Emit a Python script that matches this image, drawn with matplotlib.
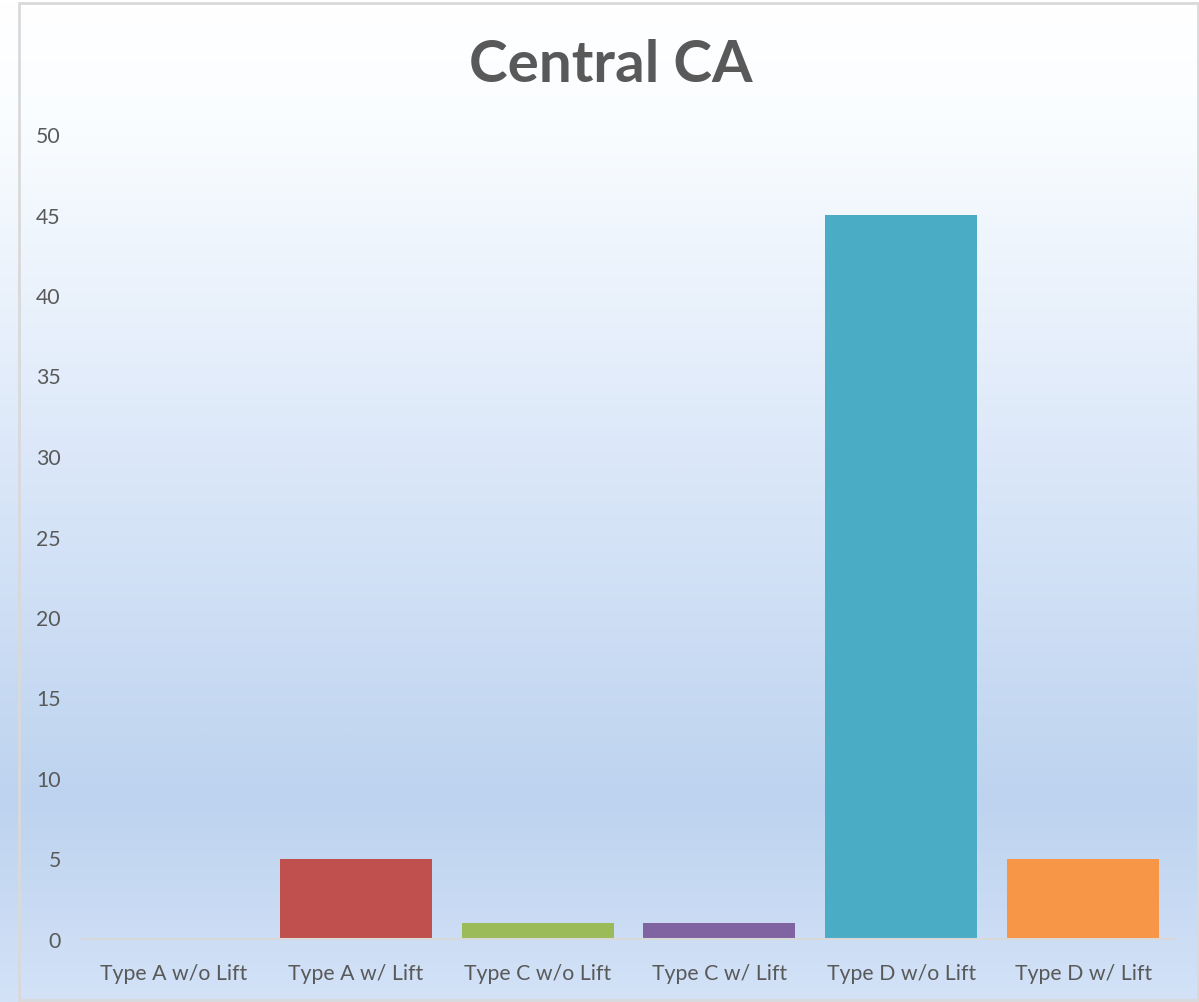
import numpy as np
import matplotlib
matplotlib.use("Agg")
import matplotlib.pyplot as plt
from matplotlib.colors import LinearSegmentedColormap
from matplotlib.patches import Rectangle

# Chart data
categories = ["Type A w/o Lift", "Type A w/ Lift", "Type C w/o Lift",
              "Type C w/ Lift", "Type D w/o Lift", "Type D w/ Lift"]
counts = [0, 5, 1, 1, 45, 5]
bar_colors = ["#4F81BD", "#C0504D", "#9BBB59", "#8064A2", "#4BACC6", "#F79646"]
y_ticks = list(range(0, 55, 5))
title = "Central CA"

plt.rcParams["font.family"] = ["Lato", "DejaVu Sans"]
text_color = "#595959"

fig = plt.figure(figsize=(11.99, 10.03), dpi=100)

# Vertical gradient background for the chart area
bg = fig.add_axes([0, 0, 1, 1], zorder=0)
grad_cmap = LinearSegmentedColormap.from_list(
    "bg",
    [(0.0, "#FFFFFF"), (0.12, "#FAFDFF"), (0.45, "#DCE8F9"),
     (0.80, "#BDD3EF"), (1.0, "#D3E2F7")])
grad = np.linspace(0, 1, 512).reshape(-1, 1)
bg.imshow(grad, aspect="auto", cmap=grad_cmap, extent=[0, 1, 1, 0])
bg.set_xlim(0, 1)
bg.set_ylim(1, 0)
bg.axis("off")

# Thin grey frame around the chart
fig.patches.append(Rectangle((19 / 1199, 2 / 1003), 1 - 20 / 1199, 1 - 6 / 1003,
                             transform=fig.transFigure, fill=False,
                             edgecolor="#D9D9D9", linewidth=2, zorder=5))

ax = fig.add_axes([83 / 1199, 63 / 1003, 1091 / 1199, 805 / 1003], zorder=1)
ax.patch.set_alpha(0)

x = np.arange(len(categories))
ax.bar(x, counts, width=0.836, color=bar_colors, zorder=2)

ax.set_xlim(-0.5, len(categories) - 0.5)
ax.set_ylim(0, 50)
ax.set_yticks(y_ticks)
ax.set_yticklabels([str(t) for t in y_ticks])
ax.set_xticks(x)
ax.set_xticklabels(categories)

for s in ["top", "right", "left"]:
    ax.spines[s].set_visible(False)
ax.spines["bottom"].set_color("#D9D9D9")
ax.spines["bottom"].set_linewidth(1.5)
ax.spines["bottom"].set_zorder(3)

ax.tick_params(axis="y", length=0, pad=16, labelsize=15.3, labelcolor=text_color)
ax.tick_params(axis="x", length=0, pad=17, labelsize=15.3, labelcolor=text_color)

fig.text(611 / 1199, 1 - 65 / 1003, title, ha="center", va="center",
         fontsize=42, fontweight="bold", color=text_color)

fig.savefig("out.png", dpi=100)
